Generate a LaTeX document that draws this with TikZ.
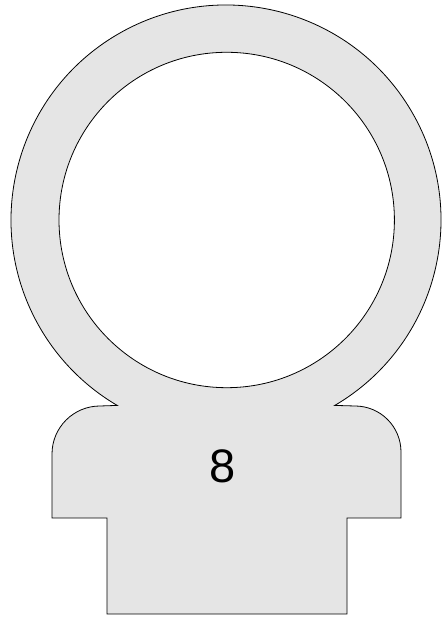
\documentclass[tikz,border=0pt]{standalone}
\usepackage{fontspec}
\setmainfont{Liberation Sans}
\tikzset{
  blob/.style={fill=black!10, draw=black, line width=0.8pt, line join=miter},
  hole/.style={fill=white, draw=black, line width=0.8pt}
}
\begin{document}
\begin{tikzpicture}[x=1pt,y=1pt]
\useasboundingbox (0,0) rectangle (441,620);

% ring and body in one outline
\filldraw[blob] (226,400) ++(300.4:215)
  arc[start angle=300.4, end angle=599.6, radius=215]
  -- (100,214) arc[start angle=90, end angle=180, radius=48]
  -- (52,102) -- (107,102) -- (107,6)
  -- (347,6) -- (347,102) -- (401,102)
  -- (401,168) arc[start angle=0, end angle=90, radius=46]
  -- cycle;

% the hole
\filldraw[hole] (226.7,400) circle (167.7);

\node (num) at (223,154) {\fontsize{47}{50}\selectfont 8};
\end{tikzpicture}
\end{document}
